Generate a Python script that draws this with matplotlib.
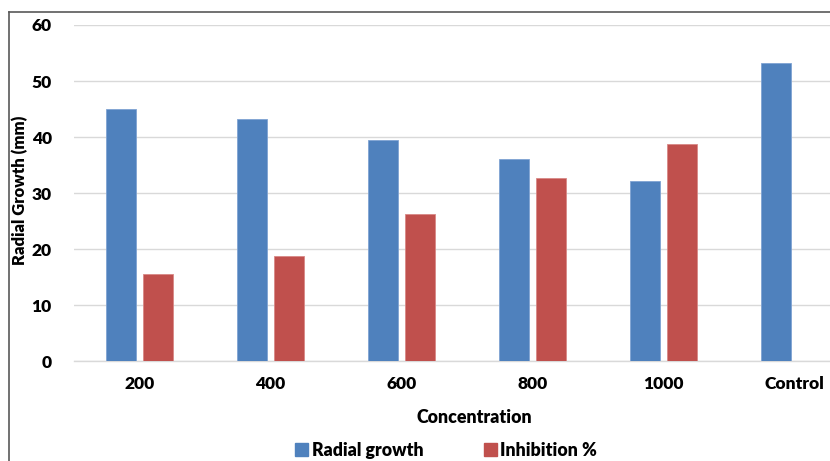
import matplotlib.pyplot as plt
from matplotlib.lines import Line2D
from matplotlib.patches import Patch
import numpy as np

categories = ['200', '400', '600', '800', '1000', 'Control']
radial_growth = [45.0, 43.3, 39.4, 36.0, 32.1, 53.3]
inhibition = [15.6, 18.7, 26.2, 32.6, 38.7, 0.0]
y_ticks = [0, 10, 20, 30, 40, 50, 60]

blue = '#4F81BD'
red = '#C0504D'
font = 'Lato'

W, H = 830, 461
fig = plt.figure(figsize=(W / 100, H / 100), dpi=100)
# plot area runs past the right edge of the (cropped) screenshot
ax = fig.add_axes([74 / W, 100 / H, 786 / W, 336 / H])

x = np.arange(len(categories))
bw = 0.229
off = 0.145
ax.bar(x - off, radial_growth, bw, color=blue, edgecolor='#7FA3D3', linewidth=0.6, zorder=3)
ax.bar(x + off, inhibition, bw, color=red, edgecolor='#D98886', linewidth=0.6, zorder=3)

ax.set_xlim(-0.5, len(categories) - 0.5)
ax.set_ylim(0, 60)
ax.set_yticks(y_ticks)
ax.set_xticks(x)
ax.set_xticklabels(categories)
ax.grid(axis='y', color='#D9D9D9', linewidth=1.0, zorder=0)
for s in ['top', 'right', 'left']:
    ax.spines[s].set_visible(False)
ax.spines['bottom'].set_color('#D9D9D9')
ax.spines['bottom'].set_linewidth(1.0)
ax.tick_params(axis='both', length=0, labelsize=12.5)
ax.tick_params(axis='y', pad=16)
ax.tick_params(axis='x', pad=11)
for lab in ax.get_xticklabels() + ax.get_yticklabels():
    lab.set_fontfamily(font)
    lab.set_fontweight('heavy')

fig.text(474 / W, 1 - 417 / H, 'Concentration', ha='center', va='center',
         fontsize=12.8, fontweight='heavy', family=font)
fig.text(20 / W, 1 - 190 / H, 'Radial Growth (mm)', ha='center', va='center',
         rotation=90, fontsize=12, fontweight='heavy', family=font)

handles = [Patch(color=blue, label='Radial growth'), Patch(color=red, label='Inhibition %')]
fig.legend(handles=handles, loc='center', bbox_to_anchor=(446 / W, 1 - 450 / H), ncol=2,
           frameon=False, handlelength=0.75, handleheight=0.75, handletextpad=0.2,
           columnspacing=3.4, prop={'family': font, 'weight': 'heavy', 'size': 12.8})

# chart border lines visible in the screenshot
fig.add_artist(Line2D([9 / W, 1], [1 - 12.5 / H, 1 - 12.5 / H], color='#595959', linewidth=1.2))
fig.add_artist(Line2D([9 / W, 9 / W], [0, 1 - 12.5 / H], color='#595959', linewidth=1.2))

fig.savefig('out.png', dpi=100)
